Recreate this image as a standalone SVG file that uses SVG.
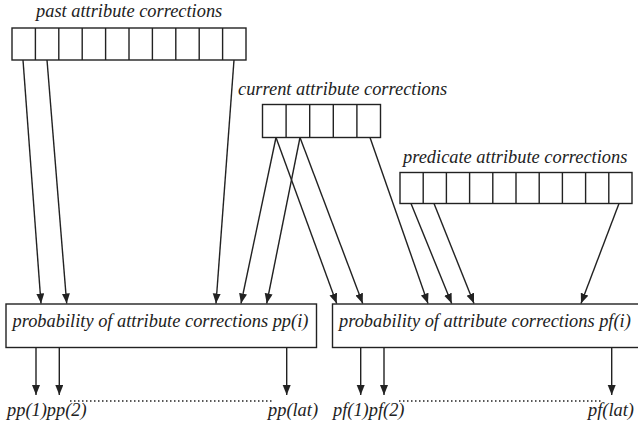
<svg xmlns="http://www.w3.org/2000/svg" width="638" height="429" viewBox="0 0 638 429">
<defs>
<marker id="ah" markerUnits="userSpaceOnUse" markerWidth="11" markerHeight="9" refX="10" refY="4" orient="auto">
<path d="M0,0 L10,4 L0,8 z" fill="#222"/>
</marker>
<style>
.t{font-family:"Liberation Serif","Times New Roman",serif;font-style:italic;font-size:18.4px;fill:#222}
.cell{fill:#fff;stroke:#222;stroke-width:1.4}
.box{fill:#fff;stroke:#222;stroke-width:1.4}
.c{stroke:#222;stroke-width:1.4;fill:none;marker-end:url(#ah)}
.dot{stroke:#222;stroke-width:1.5;stroke-dasharray:1.5 2.5;fill:none}
</style>
</defs>
<g id="past">
<text class="t" x="36" y="17">past attribute corrections</text>
<rect class="cell" x="12" y="28" width="234" height="32"/>
<path class="cell" d="M35.4,28V60M58.8,28V60M82.2,28V60M105.6,28V60M129,28V60M152.4,28V60M175.8,28V60M199.2,28V60M222.6,28V60"/>
</g>
<g id="current">
<text class="t" x="238" y="95">current attribute corrections</text>
<rect class="cell" x="262.5" y="104.5" width="118" height="33"/>
<path class="cell" d="M286.1,104.5V137.5M309.7,104.5V137.5M333.3,104.5V137.5M356.9,104.5V137.5"/>
</g>
<g id="predicate">
<text class="t" x="403" y="163">predicate attribute corrections</text>
<rect class="cell" x="400" y="172.5" width="232" height="31"/>
<path class="cell" d="M423.2,172.5V203.5M446.4,172.5V203.5M469.6,172.5V203.5M492.8,172.5V203.5M516,172.5V203.5M539.2,172.5V203.5M562.4,172.5V203.5M585.6,172.5V203.5M608.8,172.5V203.5"/>
</g>
<g id="pp">
<rect class="box" x="6" y="304" width="310.5" height="43.5"/>
<text class="t" x="12.5" y="327">probability of attribute corrections pp(i)</text>
</g>
<g id="pf">
<rect class="box" x="332.5" y="304" width="312" height="43.5"/>
<text class="t" x="339" y="327">probability of attribute corrections pf(i)</text>
</g>
<g id="outputs">
<text class="t" x="7" y="416">pp(1)pp(2)</text>
<text class="t" x="268" y="416">pp(lat)</text>
<text class="t" x="333" y="416">pf(1)pf(2)</text>
<text class="t" x="588" y="416">pf(lat)</text>
<path class="dot" d="M70,401H274M399,401H602"/>
</g>
<g id="connectors">
<path class="c" d="M23,60L41,303.5"/>
<path class="c" d="M47,60L66.7,303.5"/>
<path class="c" d="M234,60L216,303.5"/>
<path class="c" d="M276,137.5L241,303.5"/>
<path class="c" d="M276,137.5L336.7,303.5"/>
<path class="c" d="M300,137.5L266.7,303.5"/>
<path class="c" d="M300,137.5L362.7,303.5"/>
<path class="c" d="M370,137.5L428,303.5"/>
<path class="c" d="M411,203.5L451.7,303.5"/>
<path class="c" d="M434,203.5L474,303.5"/>
<path class="c" d="M619,203.5L581,303.5"/>
<path class="c" d="M36,347.5V395"/>
<path class="c" d="M59.3,347.5V395"/>
<path class="c" d="M286.7,347.5V395"/>
<path class="c" d="M360.7,347.5V395"/>
<path class="c" d="M384,347.5V395"/>
<path class="c" d="M611.7,347.5V395"/>
</g>
</svg>
